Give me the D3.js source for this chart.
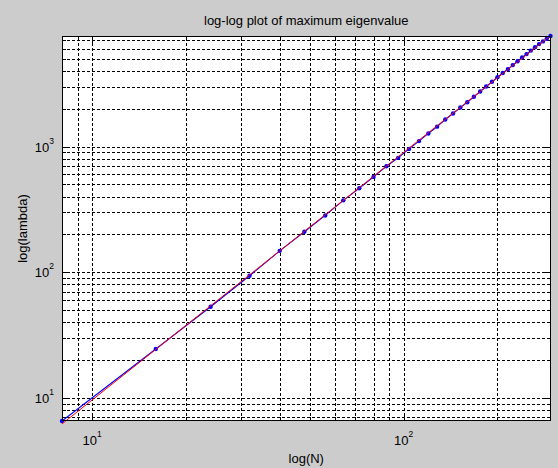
<!DOCTYPE html>
<html>
<head>
<meta charset="utf-8">
<script src="https://cdn.jsdelivr.net/npm/d3@7"></script>
<style>
  body { margin: 0; background: #cccccc; }
  text { font-family: "Liberation Sans", Arial, sans-serif; fill: #000; }
</style>
</head>
<body>
<svg width="558" height="468"></svg>
<script>
// matrix size N and the largest eigenvalue found for it
var sizes = [8, 16, 24, 32, 40, 48, 56, 64, 72, 80, 88, 96, 104, 112, 120, 128, 136, 144, 152,
             160, 168, 176, 184, 192, 200, 208, 216, 224, 232, 240, 248, 256, 264, 272, 280, 288, 296];
var lambdas = [6.56, 24.5, 53.1, 93.7, 148, 210, 283, 373, 465, 573, 697, 812, 957, 1104, 1270, 1438, 1640, 1830, 2040,
               2250, 2485, 2740, 3000, 3270, 3560, 3840, 4110, 4440, 4760, 5100, 5430, 5790, 6150, 6520, 6850, 7200, 7565];
var xDecades = [10, 100];
var yDecades = [10, 100, 1000];

var svg = d3.select("svg");
var width = +svg.attr("width");
var height = +svg.attr("height");
var margin = {top: 36, right: 7.5, bottom: 47, left: 62};
var w = width - margin.left - margin.right;
var h = height - margin.top - margin.bottom;

svg.append("rect").attr("width", width).attr("height", height).attr("fill", "#cccccc");

var g = svg.append("g").attr("transform", "translate(" + margin.left + "," + margin.top + ")");

var x = d3.scaleLog().domain(d3.extent(sizes)).range([0, w]);
var y = d3.scaleLog().domain(d3.extent(lambdas)).range([h, 0]);

g.append("rect").attr("width", w).attr("height", h).attr("fill", "#fff");

// dashed grid at every decade subdivision
var xt = x.ticks();
var yt = y.ticks();

function isDecade(v) {
    var l = Math.log10(v);
    return Math.abs(l - Math.round(l)) < 1e-9;
}

g.append("g")
    .attr("class", "grid")
    .attr("transform", "translate(0," + h + ")")
    .call(d3.axisBottom(x).tickValues(xt).tickSize(-h).tickFormat(""));
g.append("g")
    .attr("class", "grid")
    .call(d3.axisLeft(y).tickValues(yt).tickSize(-w).tickFormat(""));
g.selectAll(".grid .domain").remove();
g.selectAll(".grid line")
    .attr("stroke", "#000")
    .attr("stroke-dasharray", "3,2")
    .attr("shape-rendering", "crispEdges");

// inward tick marks on all four sides
function tickLen(v) { return isDecade(v) ? 7 : 4; }

var ticks = g.append("g").attr("stroke", "#000").attr("shape-rendering", "crispEdges");
xt.forEach(function(v) {
    var px = Math.round(x(v)) + 0.5;
    ticks.append("line").attr("x1", px).attr("x2", px).attr("y1", h).attr("y2", h - tickLen(v));
    ticks.append("line").attr("x1", px).attr("x2", px).attr("y1", 0).attr("y2", tickLen(v));
});
yt.forEach(function(v) {
    var py = Math.round(y(v)) + 0.5;
    ticks.append("line").attr("y1", py).attr("y2", py).attr("x1", 0).attr("x2", tickLen(v));
    ticks.append("line").attr("y1", py).attr("y2", py).attr("x1", w).attr("x2", w - tickLen(v));
});

// power-law fit: least squares on log10 values
var lx = sizes.map(function(d) { return Math.log10(d); });
var ly = lambdas.map(function(d) { return Math.log10(d); });
var mx = d3.mean(lx), my = d3.mean(ly);
var sxy = d3.sum(lx, function(d, i) { return (d - mx) * (ly[i] - my); });
var sxx = d3.sum(lx, function(d) { return (d - mx) * (d - mx); });
var slope = sxy / sxx;
var icpt = my - slope * mx;
var fit = sizes.map(function(n) { return Math.pow(10, icpt + slope * Math.log10(n)); });

var pts = sizes.map(function(n, i) { return {n: n, v: lambdas[i], f: fit[i]}; });

g.append("clipPath").attr("id", "clip").append("rect")
    .attr("x", -3).attr("y", -3).attr("width", w + 6).attr("height", h + 6);

var plot = g.append("g").attr("clip-path", "url(#clip)");

plot.append("path")
    .datum(pts)
    .attr("fill", "none")
    .attr("stroke", "#0000ff")
    .attr("stroke-width", 1.1)
    .attr("d", d3.line().x(function(d) { return x(d.n); }).y(function(d) { return y(d.v); }));

plot.selectAll("circle")
    .data(pts)
    .enter()
    .append("circle")
    .attr("cx", function(d) { return x(d.n); })
    .attr("cy", function(d) { return y(d.v); })
    .attr("r", 2.2)
    .attr("fill", "#0000ff");

plot.append("path")
    .datum(pts)
    .attr("fill", "none")
    .attr("stroke", "#ff0000")
    .attr("stroke-width", 1)
    .attr("d", d3.line().x(function(d) { return x(d.n); }).y(function(d) { return y(d.f); }));

// axes box
g.append("rect")
    .attr("x", 0.5).attr("y", 0.5)
    .attr("width", Math.round(w) - 1).attr("height", h - 1)
    .attr("fill", "none")
    .attr("stroke", "#000")
    .attr("shape-rendering", "crispEdges");

// 10^k labels
function powLabel(sel, v) {
    sel.append("tspan").text("10");
    sel.append("tspan").attr("dy", -8).attr("font-size", 8.5).text(Math.round(Math.log10(v)));
}

xDecades.forEach(function(v) {
    var t = g.append("text")
        .attr("x", x(v))
        .attr("y", h + 24)
        .attr("text-anchor", "middle")
        .attr("font-size", 13);
    powLabel(t, v);
});

yDecades.forEach(function(v) {
    var t = g.append("text")
        .attr("x", -8)
        .attr("y", y(v) + 5)
        .attr("text-anchor", "end")
        .attr("font-size", 13);
    powLabel(t, v);
});

svg.append("text")
    .attr("x", margin.left + w / 2)
    .attr("y", 25)
    .attr("text-anchor", "middle")
    .attr("font-size", 13)
    .text("log-log plot of maximum eigenvalue");

svg.append("text")
    .attr("x", margin.left + w / 2)
    .attr("y", 463)
    .attr("text-anchor", "middle")
    .attr("font-size", 13)
    .text("log(N)");

svg.append("text")
    .attr("transform", "translate(27," + (margin.top + h / 2) + ") rotate(-90)")
    .attr("text-anchor", "middle")
    .attr("font-size", 13)
    .text("log(lambda)");
</script>
</body>
</html>
